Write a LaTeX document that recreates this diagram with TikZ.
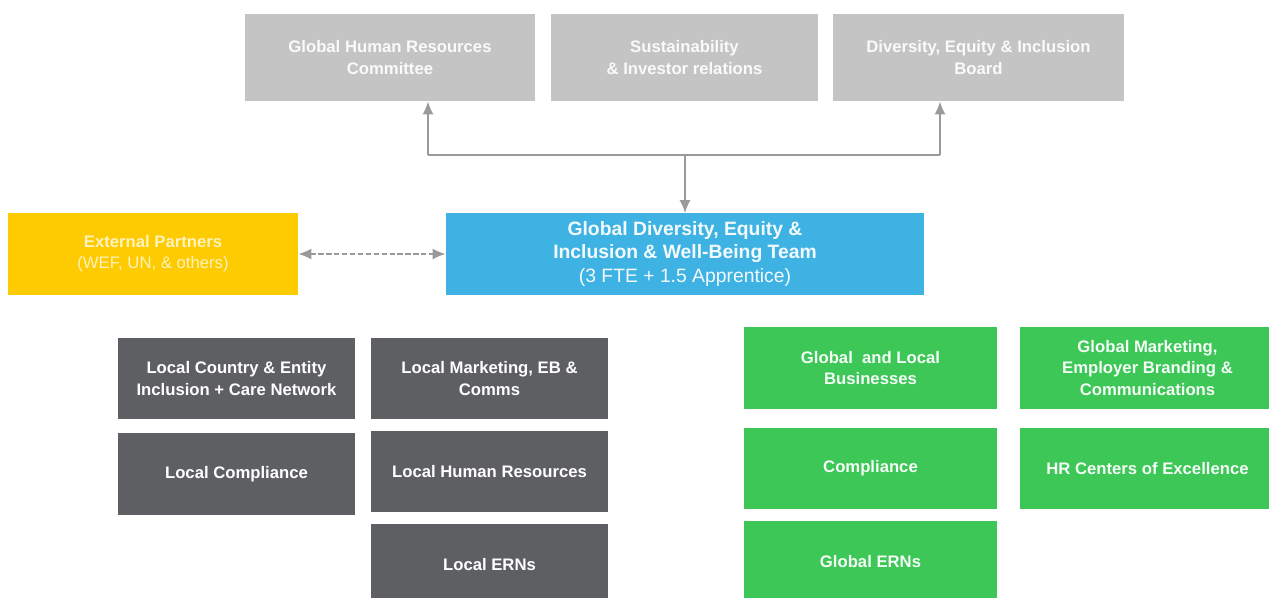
\documentclass[tikz,border=0pt]{standalone}
\usepackage{fontspec}
\setmainfont{Liberation Sans}
\usetikzlibrary{arrows.meta}

\definecolor{boardgray}{HTML}{C4C4C5}
\definecolor{partneryellow}{HTML}{FDCB00}
\definecolor{teamblue}{HTML}{3DB2E3}
\definecolor{localgray}{HTML}{5E5F63}
\definecolor{globalgreen}{HTML}{3CC756}
\definecolor{linkgray}{HTML}{9A9A9A}

\tikzset{
  box/.style 2 args={rectangle, minimum width=#1*0.02cm, minimum height=#2*0.02cm,
    inner sep=0pt, align=center, font=\bfseries\fontsize{9.5}{12}\selectfont},
  board/.style={fill=boardgray, text=white!92!boardgray},
  partner/.style={fill=partneryellow, text=white!75!partneryellow},
  team/.style={fill=teamblue, text=white!94!teamblue, font=\bfseries\fontsize{11}{13.3}\selectfont},
  local/.style={fill=localgray, text=white},
  global/.style={fill=globalgreen, text=white!95!globalgreen},
  link/.style={draw=linkgray, line width=1pt},
}

\begin{document}
\begin{tikzpicture}[x=0.02cm, y=-0.02cm, >={Latex[length=0.26cm, width=0.22cm]}]
    % Khung hiển thị
    \useasboundingbox (0,0) rectangle (1269,598);
    \clip (0,0) rectangle (1269,598);

    % 1. Hàng trên cùng
    \node[box={290}{87}, board] (ghrc) at (390,57.5) {Global Human Resources\\Committee};
    \node[box={267}{87}, board] (sir)  at (684.5,57.5) {Sustainability\\\& Investor relations};
    \node[box={291}{87}, board] (deib) at (978.5,57.5) {Diversity, Equity \& Inclusion\\Board};

    % 2. Nhóm trung tâm và đối tác
    \node[box={290}{81}, partner] (ext) at (153,254)
        {External Partners\\{\mdseries (WEF, UN, \& others)}};
    \node[box={478}{81}, team] (team) at (685,254)
        {Global Diversity, Equity \&\\Inclusion \& Well-Being Team\\{\mdseries (3 FTE + 1.5 Apprentice)}};

    % 3. Các đường nối
    \coordinate (lft) at (428,155);
    \coordinate (rgt) at (940,155);
    \coordinate (hub) at (team.north |- lft);
    \draw[link] (lft) -- (rgt);
    \draw[link, ->] (lft) -- (lft |- ghrc.south);
    \draw[link, ->] (rgt) -- (rgt |- deib.south);
    \draw[link, ->] (hub) -- (team.north);
    \draw[link, <->, dash pattern=on 3pt off 1.5pt] (ext.east) -- (team.west);

    % 4. Khối địa phương (xám đậm)
    \node[box={237}{81}, local] (lcountry) at (236.5,378.5) {Local Country \& Entity\\Inclusion + Care Network};
    \node[box={237}{82}, local] (lcompl)   at (236.5,474)   {Local Compliance};
    \node[box={237}{81}, local] (lmkt)     at (489.5,378.5) {Local Marketing, EB \&\\Comms};
    \node[box={237}{81}, local] (lhr)      at (489.5,471.5) {Local Human Resources};
    \node[box={237}{82}, local] (lern)     at (489.5,565)   {Local ERNs};

    % 5. Khối toàn cầu (xanh lá)
    \node[box={253}{82}, global] (gbiz)   at (870.5,368)  {Global\ \ and Local\\Businesses};
    \node[box={253}{81}, global] (gcompl) at (870.5,468.5) {Compliance};
    \node[box={253}{82}, global] (gern)   at (870.5,562)  {Global ERNs};
    \node[box={255}{82}, global] (gmkt)   at (1147.5,368) {Global Marketing,\\Employer Branding \&\\Communications};
    \node[box={255}{81}, global] (ghr)    at (1147.5,468.5) {HR Centers of Excellence};
\end{tikzpicture}
\end{document}
